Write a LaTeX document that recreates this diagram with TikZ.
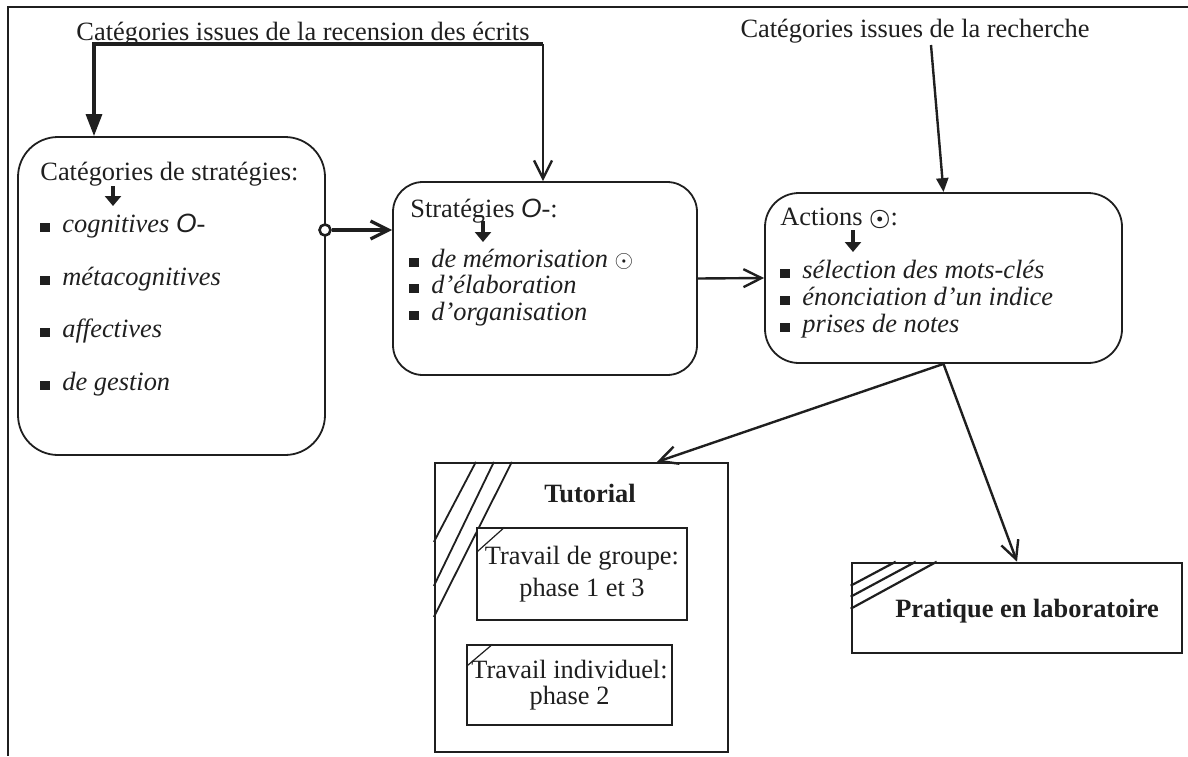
\documentclass[tikz,border=0pt]{standalone}
\usepackage{fontspec}
\setmainfont{Liberation Serif}
\setsansfont{Liberation Sans}
\usepackage{amsmath}
\usetikzlibrary{arrows.meta}
\usetikzlibrary{positioning, calc}
\colorlet{myink}{black!88}
\newcommand{\bul}{\rule{5pt}{4.6pt}\hspace{6pt}}
\newcommand{\oh}{{\sffamily\itshape O}-}
\tikzset{
  >=latex,
  txt/.style={anchor=base west, inner sep=0pt, text=myink, font=\fontsize{13.2}{16}\selectfont},
  item/.style={txt, font=\fontsize{13.2}{16}\selectfont\itshape},
  bold/.style={txt, anchor=base, font=\fontsize{13.2}{16}\selectfont\bfseries},
  rbox/.style={draw=myink, line width=0.9pt, rounded corners=#1, inner sep=0pt},
  sbox/.style={draw=myink, line width=1.1pt, fill=white, inner sep=0pt, text=myink, align=center},
  frame/.style={myink, line width=0.8pt},
  hatch/.style={myink, line width=0.9pt},
  connect/.style={myink, line width=1.2pt},
  barb/.style={connect, -{Straight Barb[length=9pt,width=9pt]}},
  tri/.style={connect, -{Triangle[length=11pt,width=8pt]}},
  dn/.style={myink, line width=2.4pt, -{Triangle[length=5pt,width=8pt]}},
  knob/.style={circle, draw=myink, line width=1.3pt, fill=white, minimum size=5.5pt, inner sep=0pt}
}
\begin{document}
\begin{tikzpicture}[x=0.5pt,y=-0.5pt]
  \useasboundingbox (0,0) rectangle (1188,756);

  % --- FRAME ---
  \coordinate (F-tl) at (8,7);
  \draw[frame] (1188,7) -- (F-tl) -- (8,756);

  % --- TITLES ---
  \node[txt, anchor=base] (rec) at (303,40) {Catégories issues de la recension des écrits};
  \node[txt, anchor=base] (rech) at (915,37) {Catégories issues de la recherche};

  % --- ROUNDED BOXES ---
  \node[rbox=20pt, minimum width=153.5pt, minimum height=159pt] (cat) at (171.5,296) {};
  \node[rbox=15pt, minimum width=152pt, minimum height=96.5pt] (strat) at (545,278.5) {};
  \node[rbox=17pt, minimum width=178.5pt, minimum height=85pt] (act) at (943.5,278) {};

  % Categories de strategies
  \node[txt] (cat-h) at (40,180) {Catégories de stratégies:};
  \coordinate (cat-a) at (113,186);
  \draw[dn] (cat-a) -- ++(0,20);
  \node[item] (cat-1) at (40,232) {\bul cognitives \oh};
  \node[item] (cat-2) at (40,285) {\bul métacognitives};
  \node[item] (cat-3) at (40,337) {\bul affectives};
  \node[item] (cat-4) at (40,390) {\bul de gestion};

  % Strategies
  \node[txt] (strat-h) at (410,217) {Stratégies \oh:};
  \coordinate (strat-a) at (483,221);
  \draw[dn] (strat-a) -- ++(0,21);
  \node[item] (strat-1) at (409,267) {\bul de mémorisation $\odot$};
  \node[item] (strat-2) at (409,293) {\bul d'élaboration};
  \node[item] (strat-3) at (409,320) {\bul d'organisation};

  % Actions
  \node[txt] (act-h) at (780,225) {Actions $\boldsymbol{\odot}$:};
  \coordinate (act-a) at (853,230);
  \draw[dn] (act-a) -- ++(0,22);
  \node[item] (act-1) at (780,278) {\bul sélection des mots-clés};
  \node[item] (act-2) at (780,305) {\bul énonciation d'un indice};
  \node[item] (act-3) at (780,332) {\bul prises de notes};

  % --- TUTORIAL ---
  \node[sbox, minimum width=146.5pt, minimum height=144.5pt] (tut) at (581.5,607.5) {};
  \foreach \a/\b in {21/40, 30/62, 39/77.5}
    \draw[hatch] ([xshift=\a pt]tut.north west) -- ([yshift=-\b pt]tut.north west);
  \node[bold] (tut-t) at (590,502) {Tutorial};
  \node[sbox, line width=0.6pt, minimum width=105pt, minimum height=46pt,
        font=\fontsize{13.2}{16}\selectfont] (grp) at (582,574) {Travail de groupe:\\phase 1 et 3};
  \draw[hatch, line width=0.6pt] ([xshift=14pt]grp.north west) -- ([yshift=-12.5pt]grp.north west);
  \node[sbox, line width=0.6pt, minimum width=102.5pt, minimum height=40pt,
        font=\fontsize{13.2}{13}\selectfont] (ind) at (569.5,685) {Travail individuel:\\phase 2};
  \draw[hatch, line width=0.6pt] ([xshift=13pt]ind.north west) -- ([yshift=-11pt]ind.north west);

  % --- LABORATOIRE ---
  \node[sbox, line width=1.3pt, minimum width=165pt, minimum height=45pt] (lab) at (1017,608) {};
  \foreach \a/\b in {22.5/12, 32.5/17.5, 43/23.5}
    \draw[hatch, line width=1.1pt] ([xshift=\a pt]lab.north west) -- ([yshift=-\b pt]lab.north west);
  \node[bold] (lab-t) at (1027,617) {Pratique en laboratoire};

  % --- CONNECTIONS ---
  \coordinate (rec-l) at (94,44);
  \coordinate (rec-r) at (543,44);
  \draw[tri, line width=1.6pt] (rec-r) -- (rec-l) -- (rec-l |- cat.north);
  \draw[barb] (rec-r) -- (rec-r |- strat.north);

  \coordinate (rech-s) at (931,45);
  \draw[connect, -{Triangle[length=7pt,width=6pt]}] (rech-s) -- (act.north);

  \node[knob] (kn) at (325,230) {};
  \draw[barb, line width=1.6pt] (kn) -- (kn -| strat.west);
  \draw[barb] (strat.east) -- (act.west);
  \draw[barb] (act.south) -- ([xshift=37.7pt]tut.north);
  \draw[barb] (act.south) -- (lab.north);

\end{tikzpicture}
\end{document}
